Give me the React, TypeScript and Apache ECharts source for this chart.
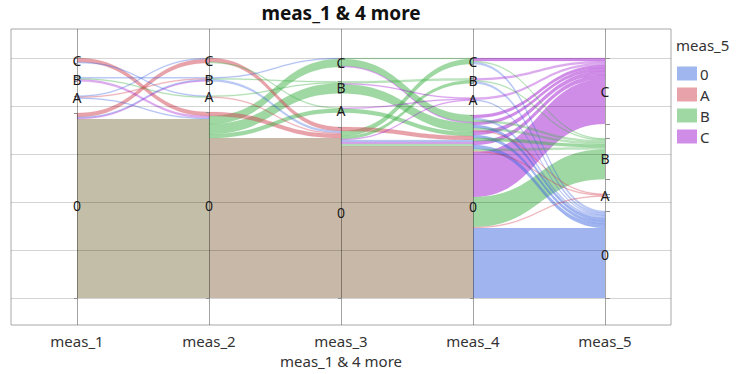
import React, { useEffect, useRef } from 'react';
import * as echarts from 'echarts';

// ---------- data ----------
const chartTitle = 'meas_1 & 4 more';
const legendTitle = 'meas_5';
const dimensions = ['meas_1', 'meas_2', 'meas_3', 'meas_4', 'meas_5'];
// categories on each dimension, from bottom to top
const categories = ['0', 'A', 'B', 'C'];
// horizontal reference lines (record-count scale)
const gridValues = [0, 48, 96, 144, 192, 240];
const SPAN = 240; // total vertical extent of one dimension (records + gaps)

// flows between consecutive dimensions: [from, to, colour (meas_5 value, or 'mix'), records]
type Flow = [string, string, string, number];
const flows12: Flow[] = [
  ['C', '0', 'A', 4], ['C', 'A', '0', 1],
  ['B', 'B', '0', 1], ['B', 'A', 'B', 1], ['B', '0', 'C', 2],
  ['A', 'C', '0', 1], ['A', 'B', 'A', 1], ['A', '0', '0', 1],
  ['0', 'C', 'A', 4], ['0', 'B', '0', 1], ['0', 'B', 'C', 1], ['0', '0', 'mix', 179],
];
const flows23: Flow[] = [
  ['C', '0', 'A', 4], ['C', 'A', 'B', 1],
  ['B', 'C', '0', 1], ['B', 'B', 'B', 1], ['B', '0', '0', 2],
  ['A', 'B', 'B', 1], ['A', '0', 'A', 1],
  ['0', '0', 'A', 4], ['0', 'C', 'B', 8], ['0', 'B', 'B', 10], ['0', 'A', 'B', 4], ['0', '0', 'mix', 160],
];
const flows34: Flow[] = [
  ['C', 'C', 'B', 1], ['C', '0', 'B', 7], ['C', '0', 'C', 1],
  ['B', 'B', 'B', 2], ['B', 'A', 'C', 1], ['B', '0', 'B', 9],
  ['A', 'A', 'C', 1], ['A', '0', 'B', 4],
  ['0', '0', 'A', 4], ['0', 'C', 'B', 5], ['0', 'B', 'B', 3], ['0', 'A', 'C', 1],
  ['0', '0', '0', 2], ['0', '0', 'C', 2], ['0', '0', 'B', 2], ['0', '0', 'mix', 152],
];
const flows45: Flow[] = [
  ['C', 'C', 'C', 3], ['C', 'B', 'B', 1], ['C', '0', '0', 2],
  ['B', 'C', 'C', 2], ['B', 'B', 'B', 1], ['B', '0', '0', 2],
  ['A', 'C', 'C', 2], ['A', '0', '0', 1],
  ['0', 'C', 'C', 3], ['0', '0', '0', 2], ['0', 'B', 'B', 2], ['0', 'C', 'C', 3],
  ['0', '0', '0', 3], ['0', 'B', 'B', 2], ['0', 'A', 'A', 1], ['0', 'C', 'C', 4],
  ['0', '0', '0', 3], ['0', 'B', 'B', 3], ['0', 'C', 'C', 4], ['0', '0', '0', 4],
  ['0', 'B', 'B', 2], ['0', 'A', 'A', 1],
  ['0', 'C', 'C', 45], ['0', 'B', 'B', 30], ['0', 'A', 'A', 1], ['0', '0', '0', 70],
];
const segments = [flows12, flows23, flows34, flows45];

// ---------- styles ----------
const FONT = '"Segoe UI", "Noto Sans", "Open Sans", sans-serif';
const baseRGB: Record<string, string> = { '0': '65,105,225', A: '209,71,85', B: '65,177,73', C: '161,27,209' };
const legendColors: Record<string, string> = { '0': '#A0B6EE', A: '#E8A3AA', B: '#A0D8A4', C: '#D08DE8' };
const blockColors = ['#C3BEA7', '#C7B8A7', '#C8B8A8'];
const ribbonKeys = [...categories, 'mix'];

// ---------- layout ----------
function computeLayout() {
  const nA = dimensions.length;
  const outSum: Record<string, number>[] = Array.from({ length: nA }, () => ({}));
  const inSum: Record<string, number>[] = Array.from({ length: nA }, () => ({}));
  segments.forEach((seg, s) =>
    seg.forEach(([f, t, , n]) => {
      outSum[s][f] = (outSum[s][f] || 0) + n;
      inSum[s + 1][t] = (inSum[s + 1][t] || 0) + n;
    })
  );
  const bottom: Record<string, number>[] = [];
  const size: Record<string, number>[] = [];
  for (let a = 0; a < nA; a++) {
    const sizes = categories.map((c) => Math.max(outSum[a][c] || 0, inSum[a][c] || 0));
    const total = sizes.reduce((p, q) => p + q, 0);
    const gap = (SPAN - total) / (categories.length - 1);
    let cum = 0;
    bottom.push({});
    size.push({});
    categories.forEach((c, i) => {
      bottom[a][c] = cum;
      size[a][c] = sizes[i];
      cum += sizes[i] + gap;
    });
  }
  const ribbons: number[][] = [];
  segments.forEach((seg, s) => {
    const src: Record<string, number> = {};
    const dst: Record<string, number> = {};
    categories.forEach((c) => {
      src[c] = bottom[s][c] + (outSum[s][c] || 0);
      dst[c] = bottom[s + 1][c] + (inSum[s + 1][c] || 0);
    });
    seg.forEach(([f, t, col, n]) => {
      const s0 = src[f];
      const d0 = dst[t];
      src[f] -= n;
      dst[t] -= n;
      ribbons.push([s, s0, s0 - n, d0, d0 - n, ribbonKeys.indexOf(col), n]);
    });
  });
  // big/mixed blocks first, thin lines on top
  ribbons.sort((p, q) => (q[5] === 4 ? 1 : 0) - (p[5] === 4 ? 1 : 0) || q[6] - p[6]);
  const nodes: number[][] = [];
  for (let a = 0; a < nA; a++) {
    categories.forEach((c, i) => {
      if (size[a][c] > 0) nodes.push([a, bottom[a][c] + size[a][c] / 2, i, bottom[a][c] + size[a][c], bottom[a][c]]);
    });
  }
  return { ribbons, nodes };
}

function bez(p0: number, p1: number, p2: number, p3: number, t: number) {
  const u = 1 - t;
  return u * u * u * p0 + 3 * u * u * t * p1 + 3 * u * t * t * p2 + t * t * t * p3;
}

function buildOption() {
  const { ribbons, nodes } = computeLayout();
  return {
    animation: false,
    grid: { left: 11, right: 67, top: 29, bottom: 49, show: true, borderColor: '#A8A8A8', borderWidth: 1 },
    graphic: [
      {
        type: 'text', x: 341, y: 13,
        style: { text: chartTitle, fontSize: 19, fontWeight: 'bold', fontFamily: FONT, fill: '#111', align: 'center', verticalAlign: 'middle', textAlign: 'center', textVerticalAlign: 'middle' },
      },
      {
        type: 'text', x: 676, y: 45,
        style: { text: legendTitle, fontSize: 15, fontFamily: FONT, fill: '#333', align: 'left', verticalAlign: 'middle', textAlign: 'left', textVerticalAlign: 'middle' },
      },
    ],
    legend: {
      orient: 'vertical', left: 677, top: 66, itemWidth: 20, itemHeight: 14, itemGap: 6, icon: 'rect',
      selectedMode: false, padding: 0,
      textStyle: { fontSize: 15, fontFamily: FONT, color: '#333', padding: [0, 0, 0, -2] },
      data: categories,
    },
    xAxis: {
      type: 'category', data: dimensions, boundaryGap: true,
      axisLine: { show: false }, axisTick: { show: false }, splitLine: { show: false },
      axisLabel: { fontSize: 15, fontFamily: FONT, color: '#333', margin: 8 },
      name: chartTitle, nameLocation: 'middle', nameGap: 28,
      nameTextStyle: { fontSize: 15, fontFamily: FONT, color: '#333' },
    },
    yAxis: {
      type: 'value', min: -27, max: 269,
      axisLine: { show: false }, axisTick: { show: false }, axisLabel: { show: false }, splitLine: { show: false },
    },
    series: [
      {
        type: 'custom', name: 'flows', z: 2, silent: true,
        encode: { x: 0, y: 1 },
        data: ribbons,
        renderItem: (params: any, api: any) => {
          const s = api.value(0) as number;
          const a = api.coord([s, api.value(1)]);
          const b = api.coord([s, api.value(2)]);
          const c = api.coord([s + 1, api.value(3)]);
          const d = api.coord([s + 1, api.value(4)]);
          const key = ribbonKeys[api.value(5) as number];
          const n = api.value(6) as number;
          const x0 = a[0], x1 = c[0], xm = (x0 + x1) / 2;
          const pts: number[][] = [];
          const N = 28;
          for (let i = 0; i <= N; i++) {
            const t = i / N;
            pts.push([bez(x0, xm, xm, x1, t), bez(a[1], a[1], c[1], c[1], t)]);
          }
          for (let i = N; i >= 0; i--) {
            const t = i / N;
            pts.push([bez(x0, xm, xm, x1, t), bez(b[1], b[1], d[1], d[1], t)]);
          }
          let style: any;
          if (key === 'mix') {
            style = { fill: blockColors[s], stroke: null };
          } else {
            const rgb = baseRGB[key];
            const thin = n <= 2;
            style = {
              fill: `rgba(${rgb},${thin ? 0.35 : 0.5})`,
              stroke: n < 20 ? `rgba(${rgb},${thin ? 0.3 : 0.25})` : null,
              lineWidth: 0.4,
            };
          }
          return { type: 'polygon', shape: { points: pts }, style };
        },
      },
      {
        type: 'custom', name: 'hgrid', z: 3, silent: true,
        encode: { x: 0, y: 1 },
        data: gridValues.map((v) => [0, v]),
        renderItem: (params: any, api: any) => {
          const cs = params.coordSys;
          const y = Math.round(api.coord([0, api.value(1)])[1]) + 0.5;
          return { type: 'line', shape: { x1: cs.x, y1: y, x2: cs.x + cs.width, y2: y }, style: { stroke: 'rgba(0,0,0,0.17)', lineWidth: 1 } };
        },
      },
      {
        type: 'custom', name: 'vgrid', z: 3, silent: true,
        encode: { x: 0, y: 1 },
        data: dimensions.map((_, i) => [i, 0]),
        renderItem: (params: any, api: any) => {
          const cs = params.coordSys;
          const x = Math.round(api.coord([api.value(0), 0])[0]) + 0.5;
          return { type: 'line', shape: { x1: x, y1: cs.y, x2: x, y2: cs.y + cs.height }, style: { stroke: 'rgba(0,0,0,0.36)', lineWidth: 1 } };
        },
      },
      {
        type: 'custom', name: 'nodes', z: 4, silent: true,
        encode: { x: 0, y: 1 },
        data: nodes,
        renderItem: (params: any, api: any) => {
          const ax = api.value(0) as number;
          const p = api.coord([ax, api.value(1)]);
          const top = api.coord([ax, api.value(3)]);
          const bot = api.coord([ax, api.value(4)]);
          const last = ax === dimensions.length - 1;
          const dx = last ? 5 : -3;
          const children: any[] = [
            { type: 'line', shape: { x1: p[0], y1: Math.round(top[1]) + 0.5, x2: p[0] + dx, y2: Math.round(top[1]) + 0.5 }, style: { stroke: '#909090', lineWidth: 1 } },
            { type: 'line', shape: { x1: p[0], y1: Math.round(bot[1]) + 0.5, x2: p[0] + dx, y2: Math.round(bot[1]) + 0.5 }, style: { stroke: '#909090', lineWidth: 1 } },
            {
              type: 'text', x: p[0], y: p[1],
              style: {
                text: categories[api.value(2) as number], fontSize: 14, lineHeight: 14, fontFamily: FONT, fill: '#1a1a1a',
                align: 'center', verticalAlign: 'middle', textAlign: 'center', textVerticalAlign: 'middle',
              },
            },
          ];
          return { type: 'group', children };
        },
      },
      ...categories.map((c) => ({
        type: 'bar', name: c, data: [], itemStyle: { color: legendColors[c] }, silent: true,
      })),
    ],
  };
}

export default function App() {
  const ref = useRef<HTMLDivElement>(null);
  useEffect(() => {
    document.body.style.margin = '0';
    const chart = echarts.init(ref.current!, null, { renderer: 'svg' });
    chart.setOption(buildOption() as any);
    return () => chart.dispose();
  }, []);
  return <div ref={ref} style={{ width: 738, height: 374 }} />;
}
